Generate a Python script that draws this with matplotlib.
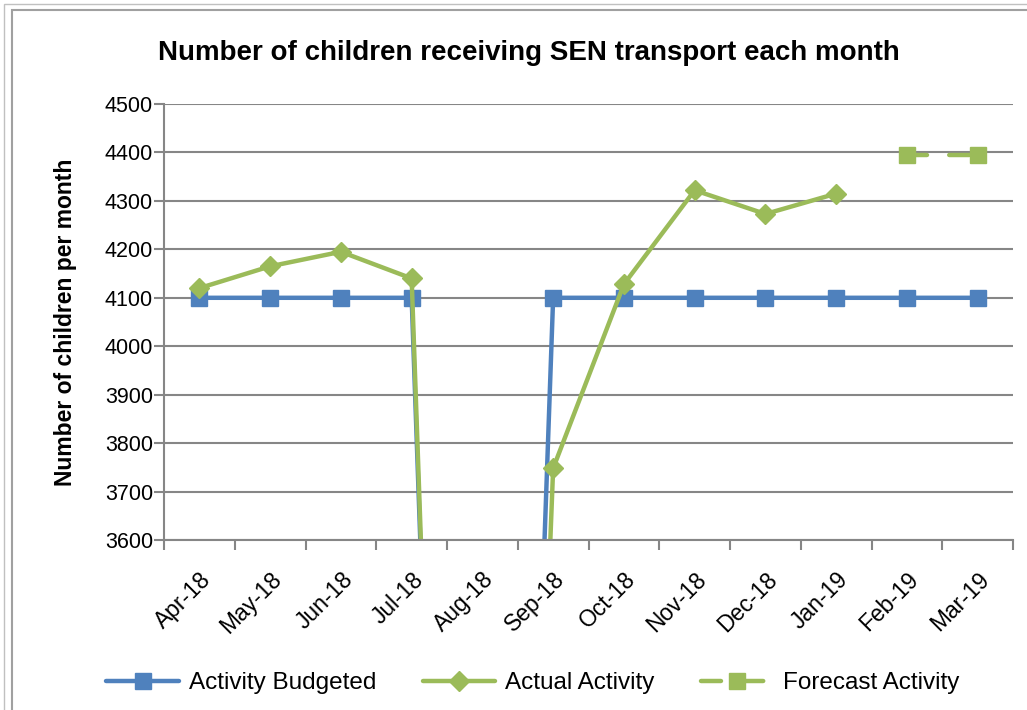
import numpy as np
import matplotlib.pyplot as plt
from matplotlib.patches import Rectangle

months = ['Apr-18', 'May-18', 'Jun-18', 'Jul-18', 'Aug-18', 'Sep-18',
          'Oct-18', 'Nov-18', 'Dec-18', 'Jan-19', 'Feb-19', 'Mar-19']
budgeted = [4100, 4100, 4100, 4100, 0, 4100, 4100, 4100, 4100, 4100, 4100, 4100]
actual = [4120, 4165, 4195, 4140, 0, 3748, 4128, 4322, 4273, 4315, np.nan, np.nan]
forecast = [np.nan] * 10 + [4395, 4395]

blue = '#4F81BD'
green = '#9BBB59'
grid_c = '#868686'

plt.rcParams['font.family'] = ['Liberation Sans', 'DejaVu Sans']

fig = plt.figure(figsize=(10.27, 7.1), dpi=100)
ax = fig.add_axes([0.1597, 0.2394, 0.8267, 0.6141])

x = np.arange(len(months))
ax.plot(x, budgeted, color=blue, lw=3.2, marker='s', ms=12, mec=blue,
        label='Activity Budgeted', solid_capstyle='round')
ax.plot(x, actual, color=green, lw=3.2, marker='D', ms=10, mec=green,
        label='Actual Activity', solid_capstyle='round')
ax.plot(x, forecast, color=green, lw=3.2, marker='s', ms=12, mec=green,
        linestyle=(0, (4.5, 5)), dash_capstyle='round', label='Forecast Activity')

ax.set_ylim(3600, 4500)
ax.set_xlim(-0.5, len(months) - 0.5)
ax.set_yticks(range(3600, 4501, 100))
ax.set_xticks(x)
ax.set_xticklabels(months, rotation=45, ha='right', rotation_mode='anchor')
ax.set_xticks(np.arange(-0.5, len(months), 1), minor=True)
ax.tick_params(axis='x', which='major', length=0, pad=20, labelsize=16.5)
ax.tick_params(axis='x', which='minor', length=7, color=grid_c, width=1.5)
ax.tick_params(axis='y', length=7, color=grid_c, width=1.5, labelsize=15.5, pad=1)
ax.yaxis.grid(True, color=grid_c, lw=1.5)
ax.set_axisbelow(True)
for s in ['top', 'right']:
    ax.spines[s].set_visible(False)
for s in ['left', 'bottom']:
    ax.spines[s].set_color(grid_c)
    ax.spines[s].set_linewidth(1.5)

ax.set_ylabel('Number of children per month', fontsize=16.5, fontweight='bold', labelpad=20)
fig.text(0.515, 0.925, 'Number of children receiving SEN transport each month',
         ha='center', va='center', fontsize=20, fontweight='bold')

fig.legend(loc='center', bbox_to_anchor=(0.519, 0.038), ncol=3, frameon=False,
           fontsize=17.5, handlelength=3.0, columnspacing=1.9, handletextpad=0.4)

fig.patches.append(Rectangle((0.012, -0.01), 1.0, 0.996, transform=fig.transFigure,
                             fill=False, edgecolor='#A0A0A0', lw=1.5))
fig.patches.append(Rectangle((0.004, -0.01), 1.0, 1.005, transform=fig.transFigure,
                             fill=False, edgecolor='#C0C0C0', lw=1.0))

fig.savefig('out.png', dpi=100)
